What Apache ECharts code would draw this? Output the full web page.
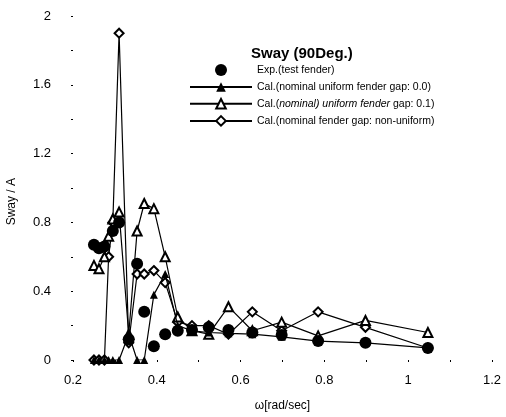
<!DOCTYPE html>
<html>
<head>
<meta charset="UTF-8">
<title>Sway (90Deg.)</title>
<script type="text/javascript" src="https://cdn.jsdelivr.net/npm/echarts@6/dist/echarts.min.js"></script>
</head>
<body style="margin:0;background:#fff;">
<div id="main" style="width:506px;height:417px;"></div>

<script type="text/javascript">
// frequencies (rad/sec)
var omegaExp = [0.25, 0.262, 0.275, 0.295, 0.31, 0.333, 0.353, 0.37, 0.393, 0.42, 0.45, 0.484, 0.524, 0.571, 0.628, 0.698, 0.785, 0.898, 1.047];
var omegaCal = [0.25, 0.262, 0.275, 0.285, 0.295, 0.31, 0.333, 0.353, 0.37, 0.393, 0.42, 0.45, 0.484, 0.524, 0.571, 0.628, 0.698, 0.785, 0.898, 1.047];

// Sway / A
var swayExp = [0.67, 0.65, 0.66, 0.75, 0.80, 0.12, 0.56, 0.28, 0.08, 0.15, 0.17, 0.175, 0.19, 0.175, 0.16, 0.145, 0.11, 0.10, 0.07];
var swayGap00 = [0, 0, 0, 0, 0, 0, 0.15, 0, 0, 0.38, 0.5, 0.2, 0.17, 0.16, 0.155, 0.15, 0.135, 0.11, 0.10, 0.07];
var swayGap01 = [0.55, 0.53, 0.6, 0.72, 0.82, 0.86, 0.15, 0.75, 0.91, 0.88, 0.6, 0.25, 0.17, 0.15, 0.31, 0.17, 0.22, 0.14, 0.23, 0.16];
var swayNonUni = [0, 0, 0, 0.6, 0.8, 1.9, 0.1, 0.5, 0.5, 0.52, 0.45, 0.22, 0.2, 0.2, 0.15, 0.28, 0.17, 0.28, 0.19, 0.07];

var names = [
  'Exp.(test fender)',
  'Cal.(nominal uniform fender gap: 0.0)',
  'Cal.(nominal uniform fender gap: 0.1)',
  'Cal.(nominal fender gap: non-uniform)'
];

function pairs(xs, ys) {
  var out = [];
  for (var i = 0; i < xs.length; i++) out.push([xs[i], ys[i]]);
  return out;
}

var mychart = echarts.init(document.getElementById('main'));

var lineStyle = { color: '#000', width: 1.2 };
var font = 'Liberation Sans, Arial, sans-serif';

var option = {
  backgroundColor: '#fff',
  animation: false,
  title: {
    text: 'Sway (90Deg.)',
    left: 246, top: 41,
    textStyle: { fontSize: 15, fontWeight: 'bold', color: '#000', fontFamily: font }
  },
  // y axis title drawn by hand so it can sit a bit lower, as in the original
  graphic: [{
    type: 'text', left: 6, top: 178, rotation: Math.PI / 2,
    style: { text: 'Sway / A', fontSize: 12, fill: '#000', fontFamily: font }
  }],
  legend: {
    orient: 'vertical',
    left: 184, top: 59,
    itemWidth: 62, itemHeight: 12, itemGap: 5.5,
    data: names,
    textStyle: {
      fontSize: 10.5, color: '#000', fontFamily: font,
      rich: {
        i: { fontSize: 10.5, fontStyle: 'italic', color: '#000', fontFamily: font }
      }
    },
    formatter: function (n) {
      if (n === names[2]) return 'Cal.({i|nominal) uniform fender} gap: 0.1)';
      return n;
    }
  },
  grid: { left: 73, right: 14, top: 16, bottom: 55 },
  xAxis: {
    type: 'value', min: 0.2, max: 1.2, interval: 0.2,
    name: 'ω[rad/sec]', nameLocation: 'middle', nameGap: 40,
    nameTextStyle: { fontSize: 12, color: '#000', fontFamily: font },
    axisLine: { show: false },
    axisTick: { show: true, length: 2, lineStyle: { color: '#000' } },
    minorTick: { show: true, splitNumber: 2, length: 2, lineStyle: { color: '#000' } },
    splitLine: { show: false },
    axisLabel: { fontSize: 13, color: '#000', margin: 14, fontFamily: font }
  },
  yAxis: {
    type: 'value', min: 0, max: 2, interval: 0.4,
    axisLine: { show: false },
    axisTick: { show: true, length: 2, lineStyle: { color: '#000' } },
    minorTick: { show: true, splitNumber: 2, length: 2, lineStyle: { color: '#000' } },
    splitLine: { show: false },
    axisLabel: { fontSize: 13, color: '#000', margin: 22, fontFamily: font }
  },
  series: [
    {
      name: names[0], type: 'scatter',
      symbol: 'circle', symbolSize: 12,
      itemStyle: { color: '#000', opacity: 1 },
      data: pairs(omegaExp, swayExp), z: 6
    },
    {
      name: names[3], type: 'line',
      symbol: 'emptyDiamond', symbolSize: 9,
      itemStyle: { color: '#000', borderWidth: 1.2 }, lineStyle: lineStyle,
      data: pairs(omegaCal, swayNonUni), z: 2
    },
    {
      name: names[2], type: 'line',
      symbol: 'emptyTriangle', symbolSize: 9,
      itemStyle: { color: '#000', borderWidth: 1.2 }, lineStyle: lineStyle,
      data: pairs(omegaCal, swayGap01), z: 3
    },
    {
      name: names[1], type: 'line',
      symbol: 'triangle', symbolSize: 8,
      itemStyle: { color: '#000' }, lineStyle: lineStyle,
      data: pairs(omegaCal, swayGap00), z: 4
    }
  ]
};

mychart.setOption(option);
</script>
</body>
</html>
